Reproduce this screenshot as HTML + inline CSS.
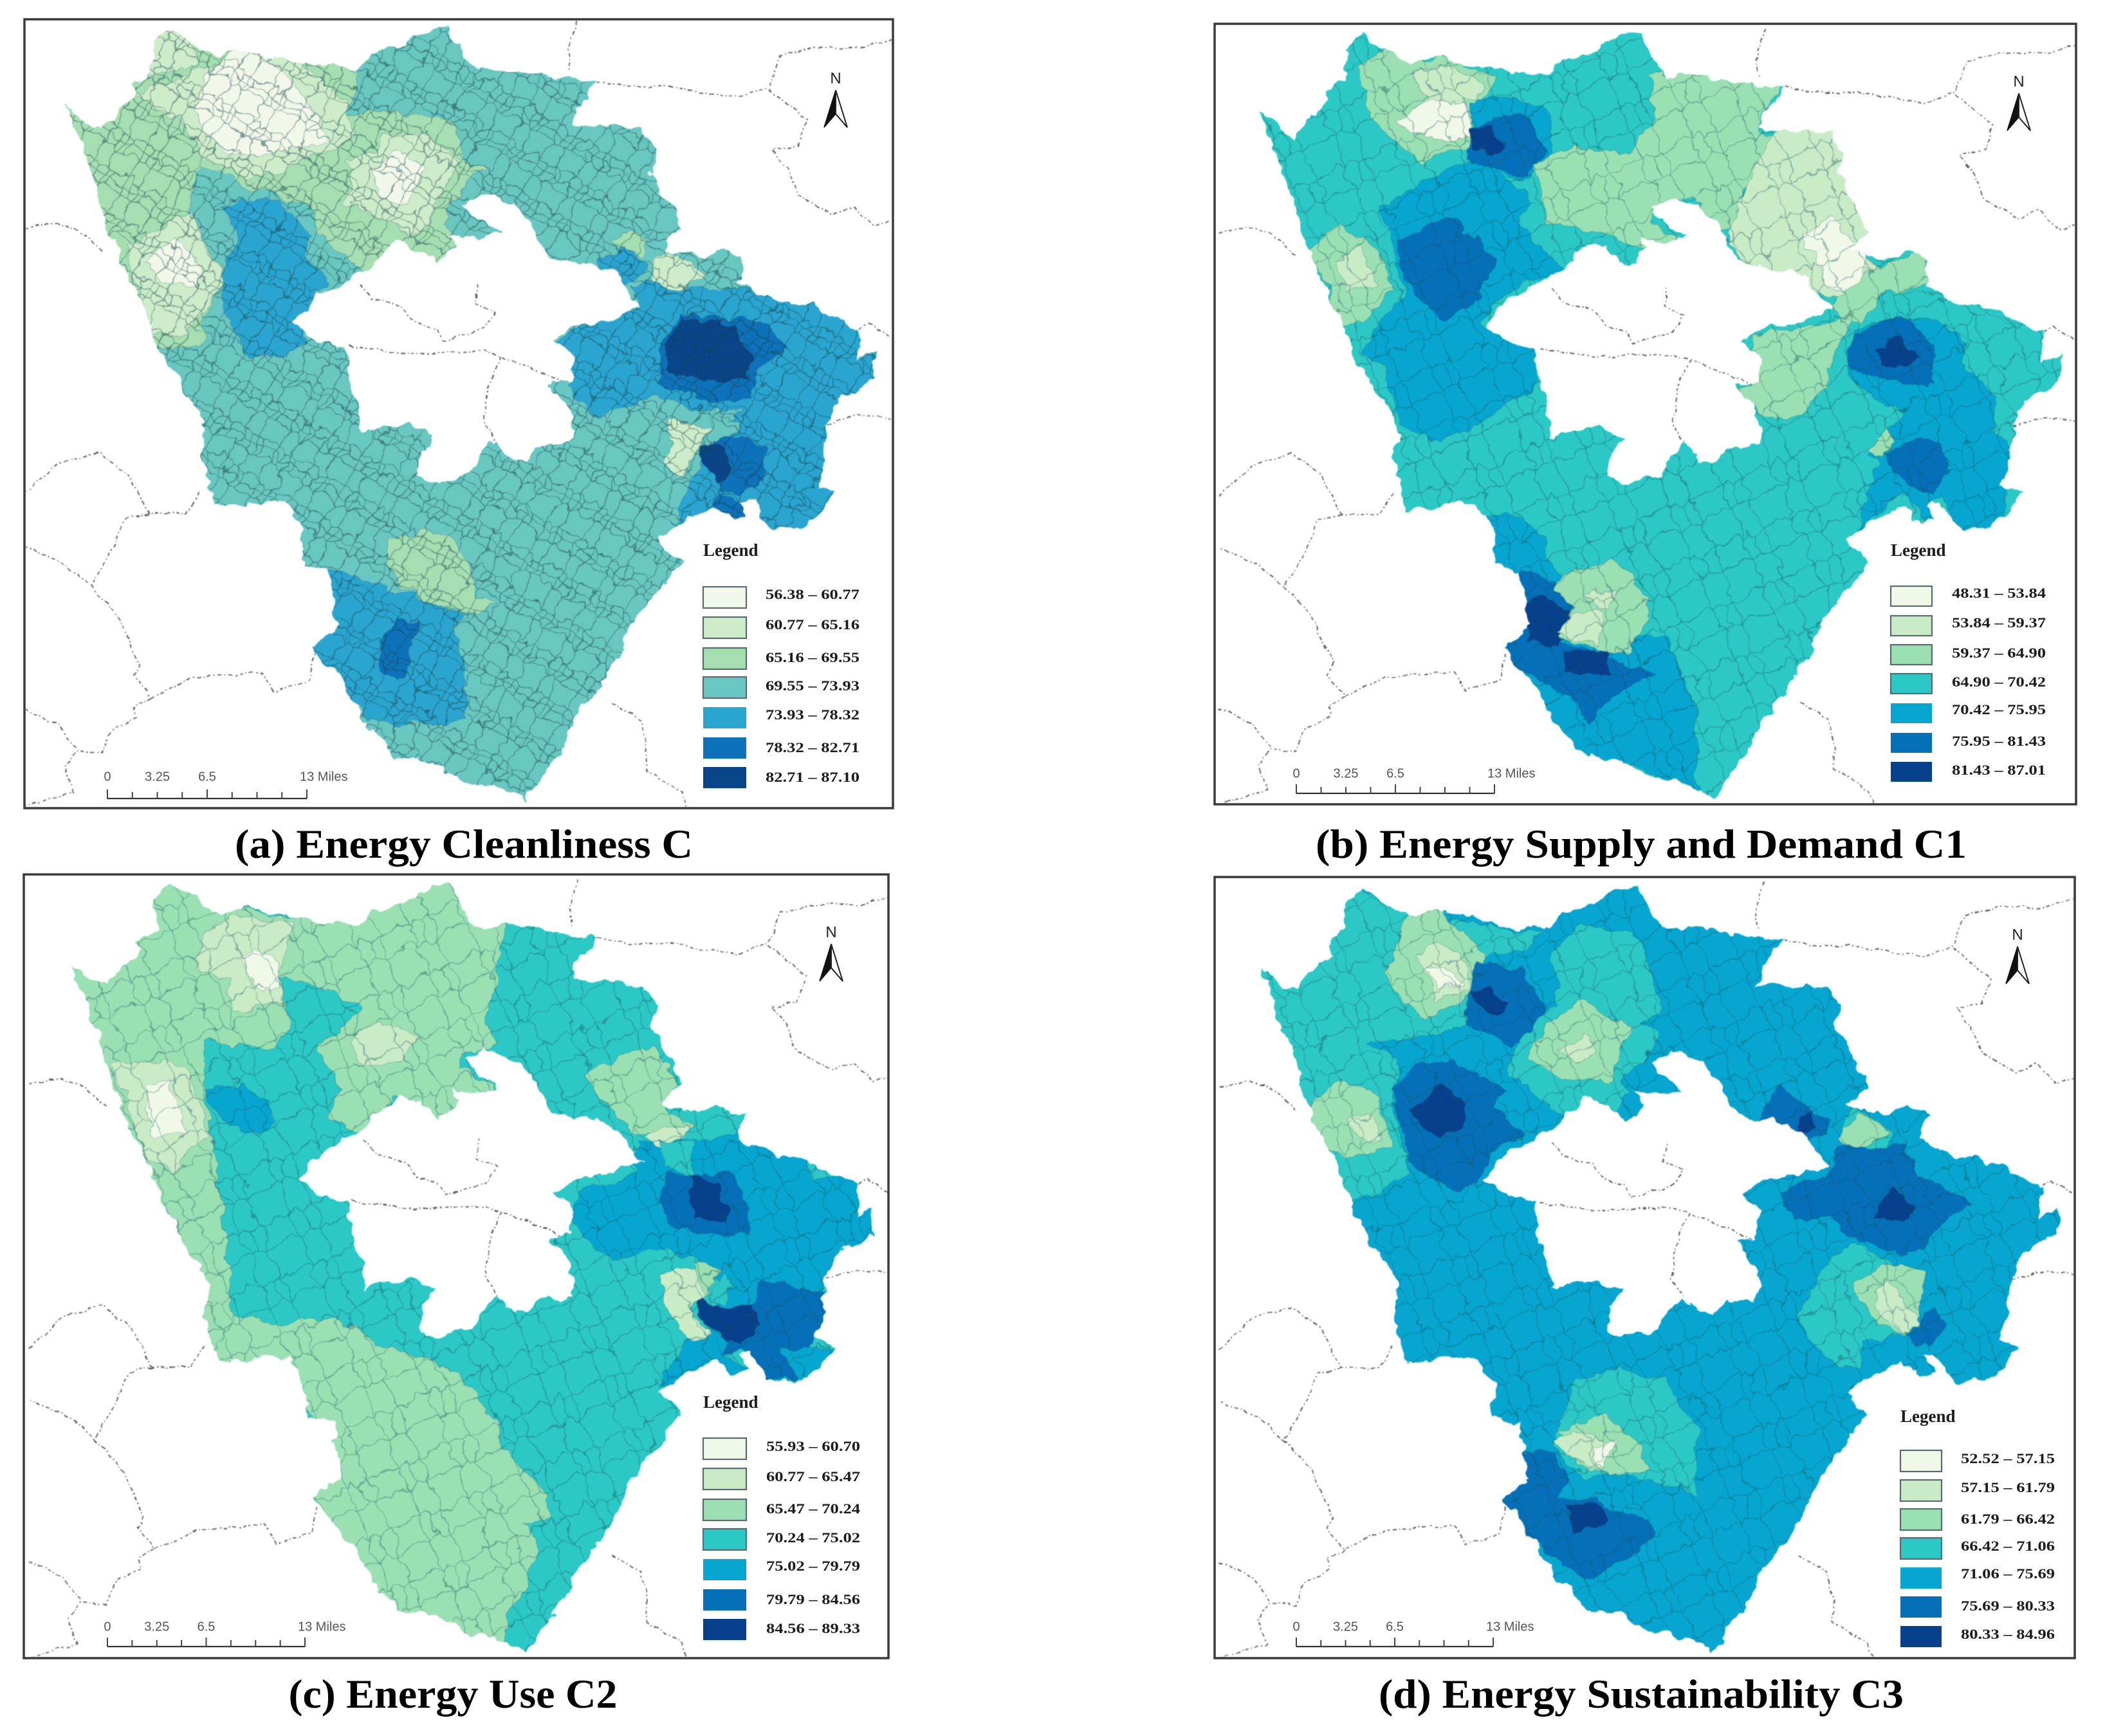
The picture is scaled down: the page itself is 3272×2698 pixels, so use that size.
<!DOCTYPE html>
<html lang="en">
<head>
<meta charset="utf-8">
<title>Energy maps</title>
<style>
html,body{margin:0;padding:0;background:#fff;width:3272px;height:2698px;overflow:hidden}
svg{display:block}
.leg{font-family:"Liberation Serif",serif;font-weight:700;fill:#1c1c1c}
.scale{font-family:"Liberation Sans",sans-serif;fill:#555}
.cap{font-family:"Liberation Serif",serif;font-weight:700;fill:#000}
</style>
</head>
<body>
<svg id="chart" xmlns="http://www.w3.org/2000/svg" width="3272" height="2698" viewBox="0 0 3272 2698">
<defs>
<filter id="soft" x="-3%" y="-3%" width="106%" height="106%" color-interpolation-filters="sRGB">
<feTurbulence type="fractalNoise" baseFrequency="0.05" numOctaves="2" seed="3" result="n"/>
<feDisplacementMap in="SourceGraphic" in2="n" scale="9" xChannelSelector="R" yChannelSelector="G"/>
<feGaussianBlur stdDeviation="0.7"/>
</filter>
<filter id="wiggle" x="-3%" y="-3%" width="106%" height="106%" color-interpolation-filters="sRGB">
<feTurbulence type="fractalNoise" baseFrequency="0.035" numOctaves="3" seed="7" result="n"/>
<feDisplacementMap in="SourceGraphic" in2="n" scale="22" xChannelSelector="R" yChannelSelector="G"/>
<feGaussianBlur stdDeviation="0.9"/>
</filter>
<pattern id="townships-dense" width="96" height="96" patternUnits="userSpaceOnUse" patternTransform="rotate(31) scale(.62)">
<path d="M0 24L12 20L24 28L36 22L48 32L64 26L80 30L96 24M0 68L14 64L28 72L44 66L60 74L76 67L96 68M24 0L24 28L21 44L28 72L24 96M64 0L64 26L68 48L60 74L64 96M48 32L44 50L44 66M80 30L84 48L76 67M0 46L21 44L44 50L68 48L84 48L96 46" fill="none" stroke="#123f48" stroke-width="2.1"/>
</pattern>
<pattern id="townships-sparse" width="130" height="130" patternUnits="userSpaceOnUse" patternTransform="rotate(-23) scale(.66)">
<path d="M0 33L16 27L33 38L49 30L65 43L87 35L108 41L130 33M0 92L19 87L38 97L60 89L81 100L103 91L130 92M33 0L33 38L28 60L38 97L33 130M87 0L87 35L92 65L81 100L87 130M65 43L60 67L60 89" fill="none" stroke="#14505a" stroke-width="2"/>
</pattern>
</defs>
</svg>
<script>
// ---- Shared legend colours, light to dark (panel a is a slightly muted scan) ----
const paletteMuted = ['#f1f8e9','#cdecc9','#a4deb1','#69c7c1','#2aa5d0','#0d72b9','#0a4589'];
const paletteVivid = ['#f0f9e8','#c9ebc6','#9be0b3','#2bc8c5','#06a6d0','#0570b8','#07408c'];

// ---- Region outline in map units (panel a zoom units) ----
const outlineRing = [[113,190],[150,225],[175,235],[205,195],[235,170],[228,155],[262,125],[262,75],[290,50],[330,75],[372,105],[405,90],[470,100],[520,115],[610,125],[640,95],[690,85],[720,60],[770,45],[790,90],[815,125],[870,125],[930,135],[1025,145],[990,190],[980,225],[1030,225],[1100,230],[1125,270],[1115,305],[1145,360],[1170,410],[1135,445],[1200,460],[1240,445],[1275,465],[1265,510],[1330,535],[1395,550],[1440,575],[1475,590],[1470,650],[1505,630],[1500,680],[1440,715],[1420,760],[1415,820],[1400,870],[1435,880],[1405,925],[1385,940],[1330,950],[1300,910],[1285,895],[1270,900],[1285,930],[1260,935],[1230,905],[1165,940],[1130,965],[1170,1005],[1130,1060],[1085,1120],[1060,1180],[1020,1250],[985,1290],[960,1350],[900,1435],[860,1410],[800,1400],[735,1365],[680,1360],[630,1300],[590,1230],[535,1160],[580,1120],[565,1020],[520,1010],[520,950],[490,900],[370,910],[345,825],[355,770],[325,720],[270,620],[250,560],[195,440],[160,320],[130,240]];
const holeRing = [[505,580],[545,530],[620,490],[680,430],[730,450],[750,475],[785,440],[770,420],[820,430],[855,415],[810,385],[795,365],[830,345],[880,365],[910,395],[930,440],[945,465],[1000,470],[1060,490],[1100,550],[1050,570],[990,580],[950,605],[985,640],[975,680],[940,690],[975,730],[985,770],[975,795],[920,800],[905,825],[880,825],[850,790],[825,820],[810,850],[740,865],[715,850],[720,810],[745,780],[700,760],[660,765],[620,780],[615,730],[600,680],[590,620],[550,610]];
const neighbourLines = [
[[990,40],[975,90],[980,125]],
[[1025,145],[1070,155],[1150,155],[1200,165],[1270,175],[1320,155],[1340,100],[1400,85],[1480,85],[1530,70]],
[[1320,160],[1385,215],[1370,260],[1325,270],[1350,300],[1370,350],[1430,385],[1465,370],[1500,405],[1530,395]],
[[42,410],[90,400],[130,410],[175,450]],
[[42,885],[100,830],[170,810],[220,850],[255,920],[320,920],[345,880]],
[[255,920],[215,930],[190,990],[155,1050],[110,1010],[42,980]],
[[155,1050],[200,1100],[240,1190],[230,1210],[260,1250],[330,1215],[450,1205],[470,1240],[530,1220],[540,1170]],
[[260,1250],[230,1265],[235,1285],[190,1310],[175,1350],[130,1345],[110,1375],[125,1420],[90,1430],[42,1445]],
[[42,1270],[100,1300],[130,1340]],
[[1050,1260],[1100,1290],[1110,1340],[1110,1380],[1170,1420],[1180,1445]],
[[1420,760],[1475,745],[1530,750]],
[[1475,590],[1490,580],[1530,605]],
[[620,510],[640,535],[690,550],[715,580],[750,590],[760,610],[830,590],[850,560],[815,545],[820,510]],
[[600,620],[700,635],[830,630],[860,640],[910,660],[975,690]],
[[860,640],[840,680],[830,760],[850,790]]
];

// ---- Panel a: Energy Cleanliness C ----
const panelACaption = '(a) Energy Cleanliness C';
const panelABreaks = [56.38,60.77,65.16,69.55,73.93,78.32,82.71,87.10];
const panelALabels = ['56.38 – 60.77','60.77 – 65.16','65.16 – 69.55','69.55 – 73.93','73.93 – 78.32','78.32 – 82.71','82.71 – 87.10'];
const panelABaseValue = 71.5;
const panelAZoneValues = [67.4,63,63,58.5,63,58.5,63,58.5,76,67.4,76,63,76,71.5,80.5,85,80.5,85,63,67.4,76,80.5];
const panelAZoneRings = [
[[90,180],[255,30],[300,30],[530,100],[615,130],[590,210],[640,195],[780,220],[800,290],[830,300],[795,340],[760,400],[790,430],[750,490],[680,435],[630,490],[550,420],[530,370],[440,340],[345,300],[320,380],[330,430],[350,430],[385,500],[355,560],[345,620],[265,625],[180,440],[130,300]],
[[230,170],[330,130],[450,85],[510,105],[590,180],[610,240],[580,270],[530,280],[470,310],[420,320],[350,280],[320,230]],
[[245,75],[280,35],[330,70],[340,120],[255,135]],
[[340,190],[350,130],[410,85],[470,110],[530,180],[560,255],[480,270],[400,280],[350,240]],
[[590,285],[640,270],[660,240],[730,240],[790,290],[760,340],[740,400],[700,420],[640,380],[590,360],[610,310]],
[[640,300],[690,270],[730,300],[700,370],[650,350]],
[[215,440],[290,400],[330,380],[350,440],[385,500],[350,560],[320,600],[260,600],[240,530]],
[[250,470],[300,430],[350,480],[340,510],[280,510]],
[[380,370],[410,360],[480,360],[535,420],[520,450],[560,505],[510,570],[530,610],[490,640],[430,640],[400,590],[380,530],[385,470],[410,430]],
[[1050,430],[1080,415],[1115,430],[1105,465],[1075,450]],
[[1030,465],[1070,445],[1110,480],[1070,520],[1030,500]],
[[1115,490],[1140,445],[1215,490],[1170,520],[1140,550],[1115,510]],
[[950,610],[1000,580],[1100,555],[1090,510],[1130,510],[1170,520],[1240,515],[1330,530],[1480,580],[1480,650],[1520,620],[1515,690],[1450,720],[1430,770],[1425,840],[1410,870],[1450,880],[1415,935],[1385,960],[1330,960],[1295,900],[1285,890],[1270,900],[1285,935],[1260,945],[1235,900],[1155,950],[1185,860],[1215,810],[1270,740],[1195,730],[1120,710],[1060,740],[1020,745],[975,690],[980,640]],
[[1220,735],[1270,760],[1235,810],[1215,790]],
[[1130,630],[1170,560],[1260,570],[1320,585],[1350,625],[1300,660],[1290,715],[1210,720],[1135,690]],
[[1140,625],[1170,565],[1230,575],[1260,580],[1290,640],[1280,685],[1220,680],[1150,665]],
[[1200,800],[1270,780],[1310,800],[1310,860],[1270,885],[1230,880],[1285,910],[1280,935],[1250,930],[1230,900],[1240,860],[1210,830]],
[[1200,800],[1225,795],[1260,840],[1235,865],[1205,830]],
[[1145,750],[1220,770],[1190,810],[1165,855],[1140,825],[1155,790]],
[[665,970],[730,950],[770,965],[810,1010],[815,1070],[850,1080],[820,1105],[740,1080],[690,1055],[665,1010]],
[[565,1020],[600,1030],[680,1060],[740,1080],[790,1100],[780,1130],[800,1190],[795,1290],[700,1300],[630,1290],[590,1230],[535,1165],[570,1120]],
[[680,1110],[720,1115],[700,1190],[690,1220],[650,1200],[650,1160]]
];

// ---- Panel b: Energy Supply and Demand C1 ----
const panelBCaption = '(b) Energy Supply and Demand C1';
const panelBBreaks = [48.31,53.84,59.37,64.90,70.42,75.95,81.43,87.01];
const panelBLabels = ['48.31 – 53.84','53.84 – 59.37','59.37 – 64.90','64.90 – 70.42','70.42 – 75.95','75.95 – 81.43','81.43 – 87.01'];
const panelBBaseValue = 67.5;
const panelBZoneValues = [62,56.5,51,73,78.5,84,62,56.5,51,62,62,73,78.5,62,56.5,73,67.5,78.5,84,78.5,62,73,78.5,84,84,62,56.5];
const panelBZoneRings = [
[[260,120],[310,85],[360,110],[420,100],[505,140],[475,185],[455,220],[470,270],[420,270],[375,295],[320,250],[280,210]],
[[355,130],[420,115],[480,150],[470,185],[440,180],[450,240],[410,250],[330,220],[385,170]],
[[325,220],[385,175],[450,195],[460,240],[410,250],[360,235]],
[[455,190],[500,175],[590,190],[600,280],[555,320],[500,310],[455,290],[465,260]],
[[460,230],[510,205],[560,210],[590,270],[550,315],[490,300],[450,290]],
[[455,230],[490,225],[520,260],[490,275],[465,270]],
[[770,130],[1010,140],[970,200],[960,240],[1000,250],[1000,280],[935,340],[920,410],[880,410],[880,390],[840,350],[795,360],[770,400],[835,430],[795,470],[700,420],[590,400],[570,290],[640,265],[740,270],[780,210]],
[[965,280],[1000,230],[1050,225],[1110,240],[1125,300],[1160,410],[1135,450],[1170,480],[1140,550],[1085,530],[1010,510],[930,470],[910,420],[935,350]],
[[1035,420],[1090,390],[1150,460],[1140,540],[1080,510],[1070,480]],
[[1165,480],[1250,450],[1270,510],[1180,525],[1140,580],[1080,550]],
[[950,600],[1090,575],[1125,560],[1100,620],[1080,690],[1040,740],[990,750],[920,705],[960,680]],
[[300,370],[420,300],[465,290],[560,340],[560,380],[540,400],[620,490],[540,510],[470,580],[510,605],[570,625],[575,690],[520,720],[460,770],[390,790],[335,760],[305,660],[270,630],[310,560],[340,530],[320,440]],
[[330,430],[420,385],[500,465],[470,540],[415,575],[360,530],[340,490]],
[[170,450],[225,405],[290,440],[320,525],[270,575],[230,580],[205,510]],
[[220,470],[260,440],[300,510],[240,520]],
[[1115,640],[1130,590],[1180,575],[1250,570],[1310,600],[1380,720],[1365,770],[1410,800],[1390,900],[1390,945],[1320,965],[1280,890],[1255,900],[1275,930],[1255,940],[1210,880],[1130,960],[1170,830],[1160,810],[1215,740],[1120,680]],
[[1180,520],[1310,530],[1400,580],[1465,580],[1480,640],[1500,630],[1495,700],[1400,750],[1365,775],[1380,710],[1310,650],[1330,610],[1250,570],[1180,570]],
[[1125,605],[1190,570],[1240,575],[1270,620],[1265,690],[1200,685],[1115,660]],
[[1165,625],[1205,605],[1240,640],[1205,660],[1175,655]],
[[1175,815],[1240,785],[1285,790],[1295,840],[1265,885],[1215,865]],
[[1160,800],[1190,770],[1200,790],[1170,820]],
[[480,930],[520,915],[585,960],[590,1000],[620,1040],[600,1140],[770,1140],[800,1140],[855,1280],[850,1400],[875,1445],[790,1395],[740,1370],[650,1380],[590,1310],[530,1210],[490,1180],[530,1060],[480,1015]],
[[540,1020],[600,1040],[640,1090],[610,1150],[660,1165],[780,1210],[700,1250],[660,1300],[640,1260],[550,1200],[505,1190],[525,1100]],
[[540,1080],[590,1070],[635,1105],[610,1160],[555,1150],[555,1110]],
[[625,1170],[700,1165],[700,1210],[625,1205]],
[[600,1040],[700,1000],[740,1030],[775,1105],[735,1165],[680,1165],[610,1140],[640,1090]],
[[660,1060],[710,1055],[700,1090],[640,1100],[610,1130],[680,1160],[690,1100]]
];

// ---- Panel c: Energy Use C2 ----
const panelCCaption = '(c) Energy Use C2';
const panelCBreaks = [55.93,60.70,65.47,70.24,75.02,79.79,84.56,89.33];
const panelCLabels = ['55.93 – 60.70','60.77 – 65.47','65.47 – 70.24','70.24 – 75.02','75.02 – 79.79','79.79 – 84.56','84.56 – 89.33'];
const panelCBaseValue = 72.5;
const panelCZoneValues = [68,68,63,58,63,63,58,77,68,63,77,72.5,82,87,82,87,63,68,72.5];
const panelCZoneRings = [
[[95,170],[250,20],[360,70],[500,100],[610,110],[620,70],[765,10],[815,100],[870,115],[850,220],[840,280],[855,330],[790,345],[790,370],[855,405],[790,430],[750,470],[675,420],[630,490],[565,460],[585,410],[545,330],[620,265],[575,230],[480,210],[500,290],[470,335],[355,320],[350,400],[385,650],[400,815],[370,915],[320,780],[230,600],[160,420]],
[[400,815],[470,830],[570,815],[660,870],[750,895],[800,930],[850,1000],[860,1050],[940,1130],[940,1180],[900,1190],[925,1230],[900,1310],[870,1350],[870,1395],[790,1400],[720,1380],[650,1370],[600,1300],[550,1210],[500,1150],[540,1000],[500,940],[340,930]],
[[345,140],[400,95],[500,110],[480,210],[490,250],[400,270],[390,210],[335,190]],
[[415,175],[440,150],[480,180],[480,230],[440,220]],
[[600,320],[640,285],[720,310],[690,360],[620,365]],
[[190,360],[280,355],[320,370],[360,490],[320,520],[300,555],[250,530],[220,430]],
[[250,400],[290,390],[320,490],[260,490]],
[[350,410],[395,395],[465,425],[470,470],[430,490],[375,455]],
[[1005,380],[1060,350],[1120,330],[1165,400],[1135,440],[1190,470],[1130,490],[1085,480],[1030,420]],
[[1110,490],[1180,470],[1150,530],[1120,510]],
[[980,640],[1000,590],[1090,560],[1095,500],[1130,510],[1170,495],[1200,500],[1270,490],[1385,530],[1395,570],[1480,550],[1485,620],[1515,610],[1515,690],[1430,720],[1410,770],[1420,820],[1390,870],[1440,870],[1410,920],[1300,945],[1285,880],[1240,880],[1285,915],[1250,920],[1130,940],[1180,860],[1220,830],[1240,760],[1190,710],[1120,690],[1060,720],[1030,700]],
[[1135,500],[1190,500],[1195,560],[1145,550]],
[[1130,610],[1145,560],[1260,560],[1285,630],[1285,670],[1220,670],[1150,650]],
[[1185,600],[1185,555],[1230,580],[1250,620],[1245,640],[1190,640]],
[[1240,880],[1290,790],[1310,750],[1415,770],[1420,820],[1390,870],[1340,870],[1350,900],[1370,925],[1300,935],[1285,880]],
[[1190,780],[1240,800],[1290,795],[1305,830],[1270,865],[1215,840]],
[[1135,735],[1190,725],[1220,770],[1185,795],[1215,850],[1190,860],[1145,810]],
[[1190,720],[1235,730],[1210,780]],
[[1240,735],[1260,760],[1240,795],[1215,785]]
];

// ---- Panel d: Energy Sustainability C3 ----
const panelDCaption = '(d) Energy Sustainability C3';
const panelDBreaks = [52.52,57.15,61.79,66.42,71.06,75.69,80.33,84.96];
const panelDLabels = ['52.52 – 57.15','57.15 – 61.79','61.79 – 66.42','66.42 – 71.06','71.06 – 75.69','75.69 – 80.33','80.33 – 84.96'];
const panelDBaseValue = 73.4;
const panelDZoneValues = [68.7,64,59.5,55,64,59.5,68.7,64,59.5,78,82.5,78,82.5,78,82.5,68.7,64,78,82.5,68.7,64,59.5,78,68.7,64,59.5,55,78,82.5];
const panelDZoneRings = [
[[70,180],[225,30],[330,85],[470,110],[580,125],[545,160],[460,170],[450,290],[400,310],[275,320],[330,360],[320,420],[350,560],[290,600],[225,610],[150,450],[90,280]],
[[320,170],[350,90],[400,85],[480,160],[455,240],[380,280],[340,250],[305,200]],
[[360,170],[400,140],[450,180],[450,230],[400,245]],
[[375,195],[420,185],[440,225],[400,225]],
[[170,440],[225,390],[295,420],[320,510],[240,530],[205,510]],
[[245,460],[280,450],[300,500],[250,490]],
[[600,170],[650,110],[740,125],[770,180],[790,270],[750,290],[790,300],[780,330],[720,395],[740,420],[660,470],[600,440],[520,370],[560,280],[610,260]],
[[560,350],[590,290],[650,250],[735,300],[700,390],[620,395]],
[[610,340],[650,310],[680,340],[640,365]],
[[320,410],[360,360],[420,355],[520,410],[500,440],[550,490],[495,520],[470,580],[430,590],[350,540],[340,480]],
[[350,450],[400,400],[440,430],[445,470],[405,500]],
[[455,220],[470,175],[550,195],[590,270],[530,330],[450,290]],
[[455,230],[490,225],[525,260],[490,275]],
[[960,460],[1000,400],[1020,420],[1085,460],[1070,490],[1020,515],[1000,480]],
[[1030,455],[1060,440],[1060,480],[1035,485]],
[[1110,470],[1130,440],[1195,480],[1180,555],[1135,565]],
[[1100,495],[1140,450],[1190,480],[1150,510],[1135,540]],
[[1000,590],[1080,565],[1100,515],[1170,510],[1220,510],[1240,560],[1335,610],[1270,660],[1250,700],[1180,695],[1120,670],[1085,640],[1020,640]],
[[1170,615],[1200,590],[1240,620],[1210,650],[1170,640]],
[[1030,820],[1050,770],[1095,705],[1125,680],[1190,720],[1250,740],[1240,780],[1220,850],[1145,860],[1140,915],[1065,880]],
[[1125,760],[1170,730],[1215,720],[1250,740],[1240,820],[1215,855],[1170,830]],
[[1160,770],[1190,750],[1220,790],[1240,825],[1215,850],[1170,810]],
[[1220,850],[1265,800],[1290,830],[1265,865],[1240,870]],
[[640,930],[720,910],[800,930],[830,980],[855,1020],[850,1100],[855,1130],[800,1120],[740,1100],[650,1100],[600,1050],[620,990]],
[[610,1020],[690,990],[730,1020],[775,1090],[700,1100],[650,1080]],
[[600,1040],[640,1020],[690,1040],[710,1040],[690,1090],[640,1070]],
[[665,1050],[715,1040],[690,1090]],
[[540,1060],[590,1055],[630,1100],[610,1140],[680,1145],[785,1200],[730,1245],[660,1290],[620,1260],[550,1200],[505,1175],[530,1110]],
[[625,1150],[690,1155],[690,1190],[640,1205]]
];

// ---- Scale bar labels ----
const scaleLabels = ['0','3.25','6.5','13 Miles'];
const scaleStops = [0,3.25,6.5,13];
const scaleTicks = [0,1.625,3.25,4.875,6.5,8.125,9.75,11.375,13];
const legendTitle = 'Legend';
const northLabel = 'N';

const svg = document.getElementById('chart');
const NS = 'http://www.w3.org/2000/svg';
function make(tag, attrs, parent){
  const e = document.createElementNS(NS, tag);
  for (const k in attrs) e.setAttribute(k, attrs[k]);
  (parent || svg).appendChild(e);
  return e;
}
function ringPath(ring, proj){
  return 'M' + ring.map(p => proj(p).map(v => v.toFixed(1)).join(' ')).join('L') + 'Z';
}
function classify(value, breaks){
  for (let i = 0; i < breaks.length - 1; i++) if (value <= breaks[i + 1]) return i;
  return breaks.length - 2;
}
function smoothLine(pts, proj){
  return 'M' + pts.map(p => proj(p).map(v => v.toFixed(1)).join(' ')).join('L');
}

const panels = [
 {key:'a', caption:panelACaption, breaks:panelABreaks, labels:panelALabels, base:panelABaseValue, values:panelAZoneValues, rings:panelAZoneRings, palette:paletteMuted,
  zx:z=>0.9056*z, zy:z=>0.8673*z,
  ox:v=>0.9056*v, oy:v=>0.8673*v,
  frame:[38,30,1388,1256], swatchX:1093, swatchW:67, swatchH:33, swatchTops:[912,959,1007,1052,1099,1146,1192], textX:1190, textYs:[926,973,1024,1068,1113,1164,1210], titleY:858,
  bar:[167,477,1241], barLabelY:1208, northX:1299, northY:123, tex:'townships-dense', texOp:.55, capX:721, capY:1333, capW:712},
 {key:'b', caption:panelBCaption, breaks:panelBBreaks, labels:panelBLabels, base:panelBBaseValue, values:panelBZoneValues, rings:panelBZoneRings, palette:paletteVivid,
  zx:z=>1880+0.8878*z, zy:z=>0.8673*z,
  ox:v=>1958+(0.9056*v-102)*0.989, oy:v=>173+(0.8673*v-165)*0.99,
  frame:[1888,37,3227,1250], swatchX:2939, swatchW:64, swatchH:31, swatchTops:[911,957,1002,1047,1093,1139,1184], textX:3034, textYs:[924,970,1017,1062,1105,1154,1199], titleY:858,
  bar:[2015,2323,1233], barLabelY:1203, northX:3138, northY:128, tex:'townships-sparse', texOp:.45, capX:2551, capY:1333, capW:1012},
 {key:'c', caption:panelCCaption, breaks:panelCBreaks, labels:panelCLabels, base:panelCBaseValue, values:panelCZoneValues, rings:panelCZoneRings, palette:paletteVivid,
  zx:z=>0.9056*z, zy:z=>1340+0.866*z,
  ox:v=>109+(0.9056*v-102)*0.993, oy:v=>1496+(0.8673*v-165)*0.9926,
  frame:[37,1359,1381,2577], swatchX:1093, swatchW:67, swatchH:33, swatchTops:[2235,2282,2330,2376,2423,2470,2516], textX:1191, textYs:[2250,2297,2347,2392,2436,2488,2533], titleY:2182,
  bar:[167,474,2559], barLabelY:2529, northX:1292, northY:1450, tex:'townships-sparse', texOp:.45, capX:704, capY:2654, capW:511},
 {key:'d', caption:panelDCaption, breaks:panelDBreaks, labels:panelDLabels, base:panelDBaseValue, values:panelDZoneValues, rings:panelDZoneRings, palette:paletteVivid,
  zx:z=>1880+0.8878*z, zy:z=>1340+0.866*z,
  ox:v=>1958+(0.9056*v-102)*0.986, oy:v=>1500+(0.8673*v-165)*0.989,
  frame:[1888,1363,3225,2577], swatchX:2954, swatchW:64, swatchH:33, swatchTops:[2254,2300,2345,2390,2436,2481,2527], textX:3048, textYs:[2269,2314,2363,2405,2448,2498,2542], titleY:2204,
  bar:[2015,2321,2559], barLabelY:2529, northX:3136, northY:1454, tex:'townships-sparse', texOp:.42, capX:2551, capY:2654, capW:816}
];

panels.forEach(function(P){
  const zProj = p => [P.zx(p[0]), P.zy(p[1])];
  const oProj = p => [P.ox(p[0]), P.oy(p[1])];
  const [fx0, fy0, fx1, fy1] = P.frame;
  const regionD = ringPath(outlineRing, oProj) + ringPath(holeRing, oProj);

  const group = make('g', {});
  
  

  const frameRect = make('rect', {x:fx0, y:fy0, width:fx1-fx0, height:fy1-fy0, fill:'#fff', stroke:'#3a3a3a', 'stroke-width':3.5}, group);
  
  

  const frameClip = make('clipPath', {id:'frame-clip-' + P.key}, group);
  make('rect', {x:fx0, y:fy0, width:fx1-fx0, height:fy1-fy0}, frameClip);
  const regionClip = make('clipPath', {id:'region-clip-' + P.key}, group);
  make('path', {d:regionD, 'clip-rule':'evenodd'}, regionClip);

  const neighbourClip = make('g', {'clip-path':'url(#frame-clip-' + P.key + ')'}, group);
  const neighbours = make('g', {filter:'url(#soft)'}, neighbourClip);
  
  
  neighbourLines.forEach(function(line){
    make('path', {d:smoothLine(line, oProj), fill:'none', stroke:'#555', 'stroke-width':1.8, 'stroke-dasharray':'6 4 2 4'}, neighbours);
  });

  const mapG = make('g', {filter:'url(#wiggle)'}, group);
  
  
  const clipped = make('g', {'clip-path':'url(#region-clip-' + P.key + ')'}, mapG);

  const basePath = make('path', {d:regionD, 'fill-rule':'evenodd', fill:P.palette[classify(P.base, P.breaks)]}, clipped);
  
  

  P.rings.forEach(function(ring, i){
    const zone = make('path', {d:ringPath(ring, zProj), fill:P.palette[classify(P.values[i], P.breaks)], stroke:'#1d4f5c', 'stroke-opacity':.3, 'stroke-width':1.2}, clipped);
    
    
  });

  const texture = make('rect', {x:fx0, y:fy0, width:fx1-fx0, height:fy1-fy0, fill:'url(#' + P.tex + ')', opacity:P.texOp}, clipped);
  
  

  // Legend
  const leg = make('g', {}, group);
  
  
  const lt = make('text', {x:P.swatchX, y:P.titleY, 'dominant-baseline':'middle', 'font-size':27, class:'leg'}, leg);
  lt.textContent = legendTitle;
  
  
  P.labels.forEach(function(label, i){
    const sw = make('rect', {x:P.swatchX, y:P.swatchTops[i], width:P.swatchW, height:P.swatchH, fill:P.palette[i], stroke:i < 4 ? '#5a6a70' : 'none', 'stroke-width':2.2}, leg);
    
    
    const tx = make('text', {x:P.textX, y:P.textYs[i], 'dominant-baseline':'middle', 'font-size':22, textLength:146, lengthAdjust:'spacingAndGlyphs', class:'leg'}, leg);
    tx.textContent = label;
    
    
  });

  // Scale bar
  const [bx0, bx1, by] = P.bar;
  const bxs = v => bx0 + (bx1 - bx0) * v / 13;
  const sb = make('g', {}, group);
  
  
  make('line', {x1:bx0, y1:by, x2:bx1, y2:by, stroke:'#333', 'stroke-width':2.2}, sb);
  scaleTicks.forEach(function(t, i){
    make('line', {x1:bxs(t), y1:by, x2:bxs(t), y2:by - (i % 4 === 0 ? 14 : 10), stroke:'#444', 'stroke-width':2}, sb);
  });
  scaleLabels.forEach(function(label, i){
    const last = i === scaleLabels.length - 1;
    const st = make('text', {x:last ? bxs(scaleStops[i]) - 11 : bxs(scaleStops[i]), y:P.barLabelY, 'dominant-baseline':'middle', 'text-anchor':last ? 'start' : 'middle', 'font-size':20, class:'scale'}, sb);
    st.textContent = label;
    
    
  });

  // North arrow
  const na = make('g', {}, group);
  
  
  const nl = make('text', {x:P.northX, y:P.northY, 'dominant-baseline':'middle', 'text-anchor':'middle', 'font-size':24, class:'scale', style:'fill:#222'}, na);
  nl.textContent = northLabel;
  const nx = P.northX, ny = P.northY;
  make('path', {d:`M${nx} ${ny+17}L${nx-18} ${ny+75}L${nx} ${ny+54}Z`, fill:'#111', stroke:'#111', 'stroke-width':1.5}, na);
  make('path', {d:`M${nx} ${ny+17}L${nx+18} ${ny+75}L${nx} ${ny+54}Z`, fill:'#fff', stroke:'#222', 'stroke-width':2}, na);

  // Caption
  const cap = make('text', {x:P.capX, y:P.capY, 'text-anchor':'middle', 'font-size':64, textLength:P.capW, lengthAdjust:'spacingAndGlyphs', class:'cap'}, group);
  cap.textContent = P.caption;
  
  
});
</script>
</body>
</html>
